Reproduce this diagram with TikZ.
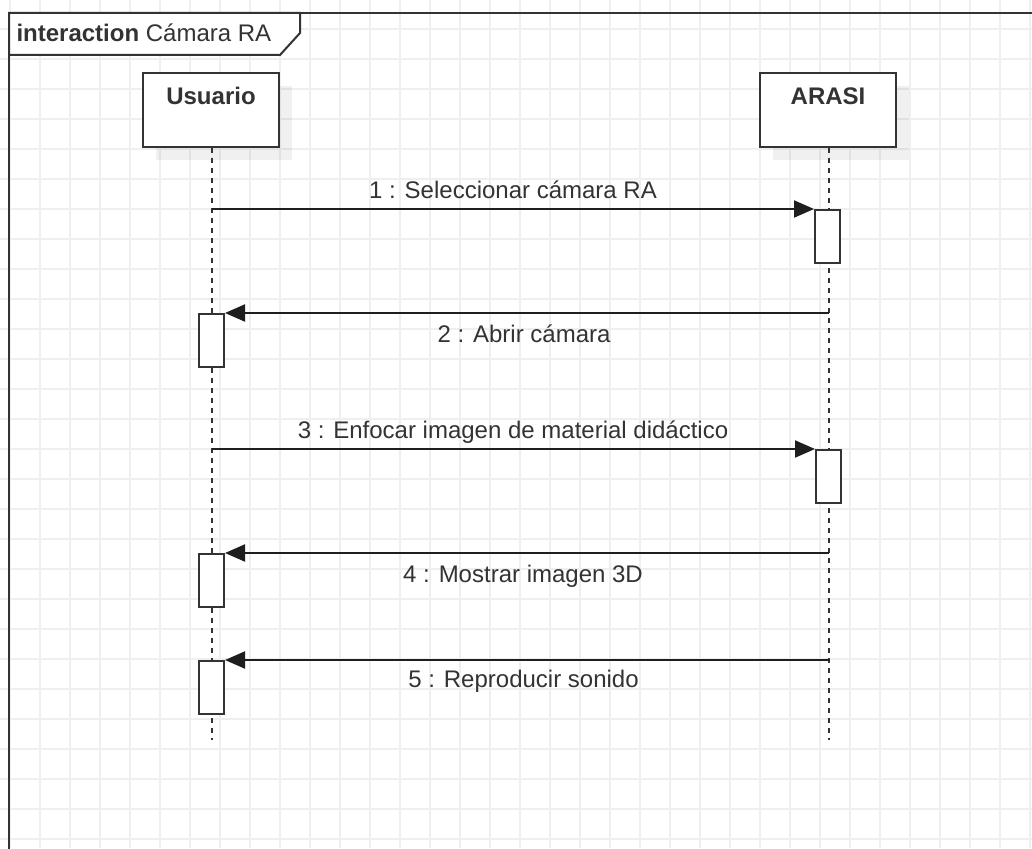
\documentclass[tikz,border=0pt]{standalone}
\usepackage{fontspec}
\setmainfont{Liberation Sans}
\usetikzlibrary{arrows.meta,shadows}
\definecolor{ink}{HTML}{333333}
\definecolor{arrowink}{HTML}{1E1E1E}
\definecolor{gridc}{HTML}{EFEFEF}
\begin{document}
\begin{tikzpicture}[x=1pt,y=-1pt,
  every node/.style={font=\fontsize{24}{28}\selectfont, text=ink},
  lifebox/.style={draw=ink, line width=2pt, fill=white, minimum width=136pt,
    minimum height=74pt, inner sep=0pt,
    drop shadow={shadow xshift=13pt, shadow yshift=-13pt, fill=black, opacity=0.06}},
  lifename/.style={anchor=base, font=\fontsize{24}{28}\selectfont\bfseries},
  actbox/.style={draw=ink, line width=2pt, fill=white, minimum width=25pt,
    minimum height=53pt, inner sep=0pt, anchor=north west},
  lifeline/.style={draw=ink, line width=1.6pt, dash pattern=on 5pt off 5pt},
  msg/.style={draw=arrowink, line width=2pt, -{Triangle[length=20pt,width=17pt]}},
  msglabel/.style={anchor=base},
]
\useasboundingbox (0,0) rectangle (1032,848);
\clip (0,0) rectangle (1032,848);
\fill[white] (0,0) rectangle (1032,848);

% background grid
\foreach \gx in {10,40,...,1030} \draw[gridc, line width=1.2pt] (\gx,0) -- (\gx,848);
\foreach \gy in {29,59,...,839} \draw[gridc, line width=1.2pt] (0,\gy) -- (1032,\gy);

% interaction frame and its title tab
\draw[ink, line width=2pt] (9,900) -- (9,13) -- (1100,13);
\draw[ink, line width=2pt, fill=white] (9,13) -- (300,13) -- (300,33) -- (280,55) -- (9,55) -- cycle;
\node[anchor=base west] (title) at (13,42) {\textbf{interaction} Cámara RA};

% participants
\node[lifebox] (usr) at (211,110) {};
\node[lifebox] (arasi) at (828,110) {};
\node[lifename] (usrname) at (211,105) {Usuario};
\node[lifename] (arasiname) at (828,105) {ARASI};

% lifelines
\coordinate (usrEnd) at (212,740);
\coordinate (arasiEnd) at (829,740);
\draw[lifeline] (usr.south -| usrEnd) -- (usrEnd);
\draw[lifeline] (arasi.south -| arasiEnd) -- (arasiEnd);

% activations
\node[actbox] (a1) at (814,209) {};
\node[actbox] (a2) at (198,313) {};
\node[actbox] (a3) at (815,449) {};
\node[actbox] (a4) at (198,553) {};
\node[actbox] (a5) at (198,660) {};

% messages
\coordinate (m1s) at (212,209);
\coordinate (m2s) at (829,313);
\coordinate (m3s) at (212,449);
\coordinate (m4s) at (829,553);
\coordinate (m5s) at (829,660);
\draw[msg] (m1s) -- (a1.north west);
\draw[msg] (m2s) -- (a2.north east);
\draw[msg] (m3s) -- (a3.north west);
\draw[msg] (m4s) -- (a4.north east);
\draw[msg] (m5s) -- (a5.north east);

\node[msglabel] (l1) at (513,198) {1 : Seleccionar cámara RA};
\node[msglabel] (l2) at (524,342) {2 : Abrir cámara};
\node[msglabel] (l3) at (513,438) {3 : Enfocar imagen de material didáctico};
\node[msglabel] (l4) at (523,582) {4 : Mostrar imagen 3D};
\node[msglabel] (l5) at (523.5,687) {5 : Reproducir sonido};
\end{tikzpicture}
\end{document}
